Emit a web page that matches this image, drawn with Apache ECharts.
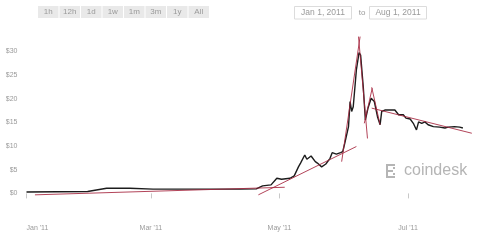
<!DOCTYPE html>
<html>
<head>
<meta charset="utf-8">
<script src="https://cdn.jsdelivr.net/npm/echarts@6/dist/echarts.min.js"></script>
<style>
html,body{margin:0;padding:0;background:#fff;}
#chart{width:480px;height:240px;}
</style>
</head>
<body>
<div id="chart"></div>
<script>
// ---- data ----
const priceDates = ['2011-01-01','2011-01-30','2011-02-08','2011-02-19','2011-03-02','2011-04-03','2011-04-12','2011-04-20','2011-04-23','2011-04-27','2011-04-29 18:00','2011-05-02','2011-05-06','2011-05-08','2011-05-10','2011-05-11','2011-05-13','2011-05-14','2011-05-16','2011-05-18','2011-05-19','2011-05-21','2011-05-23','2011-05-25','2011-05-26','2011-05-28','2011-05-30','2011-05-31','2011-06-01','2011-06-02 18:00','2011-06-03 12:00','2011-06-04 06:00','2011-06-05','2011-06-06 12:00','2011-06-07 18:00','2011-06-08 12:00','2011-06-09 18:00','2011-06-10 18:00','2011-06-12','2011-06-13 12:00','2011-06-15','2011-06-16 12:00','2011-06-17 18:00','2011-06-18 12:00','2011-06-20','2011-06-24 18:00','2011-06-26 12:00','2011-06-28 18:00','2011-06-30','2011-07-02','2011-07-03 12:00','2011-07-05','2011-07-06','2011-07-07 12:00','2011-07-09','2011-07-10 12:00','2011-07-13','2011-07-16','2011-07-18 12:00','2011-07-20','2011-07-23','2011-07-25 12:00','2011-07-27'];
const prices = [0.3,0.4,1.1,1.1,0.9,0.9,0.9,0.95,1.6,1.8,3.2,3.0,3.2,3.7,5.6,6.4,8.1,7.2,7.9,6.7,6.4,5.6,6.2,7.4,8.6,8.3,8.6,8.8,10.6,14.1,19.4,17.3,18.3,26.1,29.7,29.2,22.5,15.5,18.0,20.1,19.4,16.2,14.5,17.3,17.6,17.6,16.6,16.6,15.9,15.7,14.8,13.4,15.1,14.8,15.1,14.5,14.1,14.0,13.8,14.0,14.1,14.0,13.8];

// hand-drawn trend lines (start, end)
const trendLong = [['2011-01-05', -0.3], ['2011-05-03 12:00', 1.3]];
const trendRise = [['2011-04-21', -0.3], ['2011-06-06 12:00', 9.9]];
const trendSpikeUp = [['2011-05-30 12:00', 6.7], ['2011-06-08 06:00', 33.1]];
const trendSpikeDown = [['2011-06-07 12:00', 33.1], ['2011-06-11 18:00', 11.6]];
const trendBounceUp = [['2011-06-10 06:00', 14.8], ['2011-06-14', 22.2]];
const trendBounceDown = [['2011-06-13 18:00', 22.4], ['2011-06-17 18:00', 14.5]];
const trendDecline = [['2011-06-13 18:00', 18.0], ['2011-07-31 06:00', 12.7]];

const xTickDates = ['2011-01-01','2011-03-01','2011-05-01','2011-07-01'];
const yTickValues = [0,5,10,15,20,25,30];
const monthNames = ['Jan','Feb','Mar','Apr','May','Jun','Jul','Aug','Sep','Oct','Nov','Dec'];
const rangeButtons = ['1h','12h','1d','1w','1m','3m','1y','All'];
const rangeFrom = 'Jan 1, 2011';
const rangeTo = 'Aug 1, 2011';

// ---- chart ----
function ts(s){ const p = s.split(/[- :]/).map(Number); return new Date(p[0], p[1]-1, p[2], p[3]||0, p[4]||0).getTime(); }
const priceData = priceDates.map((d,i)=>[ts(d), prices[i]]);
const trends = [trendLong, trendRise, trendSpikeUp, trendSpikeDown, trendBounceUp, trendBounceDown, trendDecline];

const graphics = [];
const btnX0 = 38, btnW = 21.5;
rangeButtons.forEach((b,i)=>{
  graphics.push({type:'rect', shape:{x:btnX0+i*btnW, y:6, width:btnW-1, height:12}, style:{fill:'#e9e9e9'}, silent:true});
  graphics.push({type:'text', x:btnX0+i*btnW+(btnW-1)/2, y:12, style:{text:b, fill:'#9a9a9a', font:'8px "Liberation Sans", Arial, sans-serif', align:'center', verticalAlign:'middle'}, silent:true});
});
graphics.push({type:'rect', shape:{x:294.5, y:6.5, width:57, height:12.5}, style:{fill:'#fff', stroke:'#dcdcdc', lineWidth:1}});
graphics.push({type:'text', x:323, y:12.8, style:{text:rangeFrom, fill:'#9a9a9a', font:'8.5px "Liberation Sans", Arial, sans-serif', align:'center', verticalAlign:'middle'}});
graphics.push({type:'text', x:362, y:12.8, style:{text:'to', fill:'#9a9a9a', font:'8px "Liberation Sans", Arial, sans-serif', align:'center', verticalAlign:'middle'}});
graphics.push({type:'rect', shape:{x:369.5, y:6.5, width:57, height:12.5}, style:{fill:'#fff', stroke:'#dcdcdc', lineWidth:1}});
graphics.push({type:'text', x:398, y:12.8, style:{text:rangeTo, fill:'#9a9a9a', font:'8.5px "Liberation Sans", Arial, sans-serif', align:'center', verticalAlign:'middle'}});
// coindesk watermark
const logoC = '#b5b5b5';
graphics.push({type:'group', silent:true, children:[
  {type:'rect', shape:{x:386, y:164, width:2, height:14}, style:{fill:logoC}},
  {type:'rect', shape:{x:386, y:164, width:9, height:2}, style:{fill:logoC}},
  {type:'rect', shape:{x:386, y:170, width:7, height:2}, style:{fill:logoC}},
  {type:'rect', shape:{x:386, y:176, width:9, height:2}, style:{fill:logoC}},
  {type:'rect', shape:{x:393, y:167, width:2, height:2}, style:{fill:logoC}},
  {type:'rect', shape:{x:393, y:173, width:2, height:2}, style:{fill:logoC}}
]});
graphics.push({type:'text', x:404, y:171, silent:true, style:{text:'coindesk', fill:logoC, font:'16px "Liberation Sans", Arial, sans-serif', align:'left', verticalAlign:'middle'}});

const series = [{
  type:'line', data:priceData, showSymbol:false, symbol:'none', z:3,
  lineStyle:{color:'#1c1c1c', width:1.4}, clip:false
}];
trends.forEach(t=>{
  series.push({type:'line', data:t.map(p=>[ts(p[0]), p[1]]), showSymbol:false, symbol:'none', z:4, clip:false,
    lineStyle:{color:'rgba(165,35,60,0.85)', width:1}});
});

const chart = echarts.init(document.getElementById('chart'), null, {renderer:'canvas'});
chart.setOption({
  animation:false,
  backgroundColor:'#ffffff',
  grid:{left:26.5, right:6.6, top:27.6, bottom:22.9, containLabel:false},
  xAxis:{
    type:'value', min:ts('2011-01-01'), max:ts('2011-08-01'), scale:true,
    axisLine:{show:false},
    splitLine:{show:false},
    axisTick:{show:true, length:5, lineStyle:{color:'#c8c8c8'}, customValues:xTickDates.map(ts)},
    axisLabel:{
      customValues:xTickDates.map(ts), margin:7, color:'#9a9a9a', fontSize:7,
      fontFamily:'"Liberation Sans", Arial, sans-serif', alignMinLabel:'left', hideOverlap:false,
      formatter:(v)=>{ const d=new Date(v); return monthNames[d.getMonth()] + " '" + String(d.getFullYear()).slice(2); }
    }
  },
  yAxis:{
    type:'value', min:-5, max:35, interval:5,
    axisLine:{show:false}, axisTick:{show:false}, splitLine:{show:false},
    axisLabel:{
      customValues:yTickValues, margin:9, color:'#9a9a9a', fontSize:7,
      fontFamily:'"Liberation Sans", Arial, sans-serif', padding:[0,0,7,0],
      formatter:(v)=>'$'+v
    }
  },
  graphic:graphics,
  series:series
});
</script>
</body>
</html>
